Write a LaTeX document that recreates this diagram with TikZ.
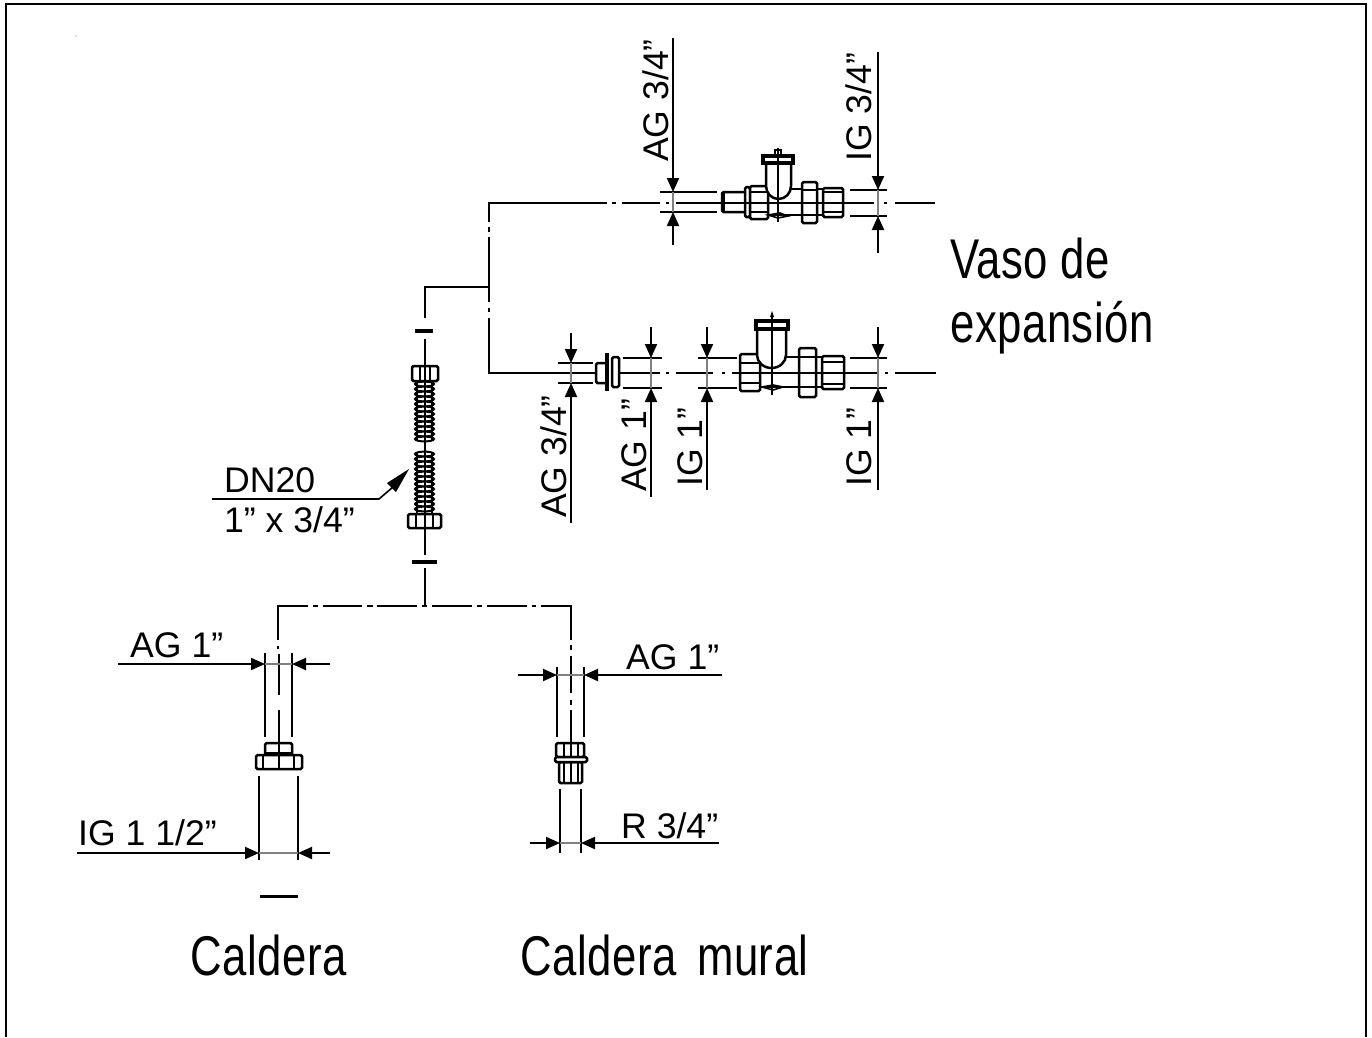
\documentclass[tikz,border=0pt]{standalone}
\usepackage{fontspec}
\setmainfont{Liberation Sans}
\newfontfamily\bigfont[FakeStretch=0.78,LetterSpace=1]{Liberation Sans}
\usetikzlibrary{arrows.meta}
\tikzset{
    dim/.style={line width=2pt,-{Triangle[length=14pt,width=12pt]}},
    ext/.style={line width=2.1pt},
    pipe/.style={line width=2.4pt},
    part/.style={line width=2.5pt,fill=white,rounded corners=1.5pt},
    lab/.style={anchor=base west,inner sep=0pt,font=\fontsize{35.6}{40}\selectfont},
    vlab/.style={lab,rotate=90},
    biglab/.style={anchor=base west,inner sep=0pt,font=\bigfont\fontsize{56}{60}\selectfont}
}
\begin{document}
\begin{tikzpicture}[x=1pt,y=-1pt]
    \useasboundingbox (0,0) rectangle (1372,1037);
    \draw[line width=2.6pt] (6,1037) -- (6,4) -- (1366,4) -- (1366,1037);
    \fill[gray] (76,36) circle (0.6);

    % pipes
    \draw[pipe] (425,318) -- (425,287) -- (489,287);
    \draw[pipe] (607,203) -- (489,203) -- (489,222);
    \draw[pipe] (489,227) -- (489,232) (489,237) -- (489,302) (489,308) -- (489,312);
    \draw[pipe] (489,318) -- (489,373) -- (596,373);
    \draw[pipe] (612,203) -- (616,203) (622,203) -- (660,203) (666,203) -- (669,203) (676,203) -- (722,203);
    \draw[pipe] (619,373) -- (660,373) (666,373) -- (669,373) (676,373) -- (713,373) (722,373) -- (725,373) (732,373) -- (878,373) (885,373) -- (888,373) (895,373) -- (936,373);
    \draw[pipe] (722,203) -- (874,203) (884,203) -- (887,203) (895,203) -- (935,203);

    % flex hose
    \draw[pipe] (425,339) -- (425,555) (425,568) -- (425,606);
    \draw[line width=3.6pt] (415,331) -- (433,331) (412,562) -- (437,562);
    \foreach \y in {384,389,...,439}{\draw[line width=2pt,fill=white] (424.5,\y) ellipse (9.5 and 2.4);}
    \foreach \y in {454,459,...,509}{\draw[line width=2pt,fill=white] (424.5,\y) ellipse (9.5 and 2.4);}
    \draw[line width=1.6pt] (417,381) -- (417,441) (432,381) -- (432,441) (417,453) -- (417,513) (432,453) -- (432,513) (425,381) -- (425,513);
    \draw[part] (412,366) rectangle (438,381);
    \draw[pipe] (420,366) -- (420,381) (430,366) -- (430,381) (425,366) -- (425,381);
    \draw[part] (408,514) rectangle (441,528);
    \draw[pipe] (416,514) -- (416,528) (433,514) -- (433,528) (425,514) -- (425,528);

    % header to boilers
    \draw[pipe] (278,640) -- (278,606) -- (308,606) (313,606) -- (318,606) (323,606) -- (362,606) (367,606) -- (373,606) (377,606) -- (417,606) (422,606) -- (427,606) (432,606) -- (472,606) (477,606) -- (482,606) (487,606) -- (527,606) (532,606) -- (536,606) (541,606) -- (571,606) -- (571,640);
    \draw[pipe] (278,646) -- (278,649) (571,645) -- (571,650);

    % upper valve
    \draw[part] (722,192) rectangle (750,212);
    \draw[line width=3.4pt] (723,192) -- (723,212);
    \draw[part] (745,187) rectangle (750,217);
    \draw[pipe] (768,189) -- (802,189) (768,215) -- (823,215) (817,189) -- (823,189);
    \draw[part] (750,186) rectangle (768,219);
    \draw[pipe] (750,192) -- (768,192) (750,212) -- (768,212);
    \draw[line width=2.5pt,fill=white] (766,163) -- (766,186) arc[start angle=180,end angle=0,x radius=12.5,y radius=13] -- (791,163);
    \draw[line width=3.2pt,fill=white] (763,156) rectangle (793,163);
    \draw[line width=1.8pt] (775,156) -- (775,150) -- (781,150) -- (781,156);
    \draw[part] (802,182) rectangle (817,223);
    \draw[pipe] (802,190) -- (817,190) (802,215) -- (817,215);
    \draw[part] (823,188) rectangle (843,217);
    \draw[pipe] (823,192) -- (843,192) (823,212) -- (843,212);
    \draw[line width=1.6pt] (768,215) -- (780,213) -- (788,216) -- (778,218) -- cycle;
    \draw[pipe] (778,148) -- (778,222);
    \draw[pipe] (722,203) -- (874,203);

    % lower valve
    \draw[part] (596,363) rectangle (607,383);
    \draw[line width=3.8pt] (607,353) -- (607,391);
    \draw[part] (612,357) rectangle (619,387);
    \draw[pipe] (760,357) -- (799,357) (760,387) -- (799,387) (816,357) -- (822,357) (816,387) -- (822,387);
    \draw[part] (740,354) rectangle (760,391);
    \draw[pipe] (740,363) -- (760,363) (740,383) -- (760,383);
    \draw[line width=2.5pt,fill=white] (757,329) -- (757,355) arc[start angle=180,end angle=0,x radius=14.5,y radius=13] -- (786,329);
    \draw[line width=3.2pt,fill=white] (756,321) rectangle (788,329);
    \draw[part] (799,348) rectangle (816,397);
    \draw[pipe] (799,357) -- (816,357) (799,387) -- (816,387);
    \draw[part] (822,356) rectangle (844,389);
    \draw[pipe] (822,362) -- (844,362) (822,384) -- (844,384);
    \draw[line width=1.6pt] (762,387) -- (773,385) -- (783,387) -- (773,390) -- cycle;
    \draw[line width=2.6pt] (772,316) -- (772,395);
    \fill (770,317) -- (772,311) -- (774,317) -- cycle;
    \draw[pipe] (732,373) -- (878,373);

    % left boiler fitting
    \draw[pipe] (279,654) -- (279,695) (279,710) -- (279,769);
    \draw[ext] (265,653) -- (265,737) (292,653) -- (292,737);
    \draw[part] (265,743) rectangle (292,755);
    \draw[line width=3.6pt] (265,753.5) -- (292,753.5);
    \draw[part] (256,755) rectangle (302,769);
    \draw[pipe] (263,755) -- (263,769) (294,755) -- (294,769) (279,743) -- (279,769);
    \draw[ext] (259,776) -- (259,860) (298,776) -- (298,860);
    \draw[line width=3pt] (260,896) -- (298,896);

    % right boiler fitting
    \draw[pipe] (571,656) -- (571,693) (571,700) -- (571,705) (571,710) -- (571,743);
    \draw[ext] (557,667) -- (557,737) (584,667) -- (584,737);
    \draw[part] (556,743) rectangle (584,757);
    \draw[part] (559,762) rectangle (582,783);
    \draw[part] (555,757) rectangle (587,762);
    \draw[pipe] (564,743) -- (564,757) (571,743) -- (571,757) (578,743) -- (578,757) (564,762) -- (564,783) (571,762) -- (571,783) (578,762) -- (578,783);
    \draw[ext] (560,789) -- (560,853) (581,789) -- (581,853);

    % dimensions
    \draw[ext] (660,192) -- (717,192) (660,212) -- (717,212);
    \draw[ext] (850,190) -- (887,190) (850,216) -- (887,216);
    \draw[ext] (558,363) -- (593,363) (558,383) -- (593,383);
    \draw[ext] (623,358) -- (662,358) (623,388) -- (662,388);
    \draw[ext] (698,358) -- (737,358) (698,388) -- (737,388);
    \draw[ext] (850,358) -- (887,358) (850,388) -- (887,388);
    \draw[line width=1.2pt,gray] (673,192) -- (673,212) (878,190) -- (878,216) (571,363) -- (571,383) (651,358) -- (651,388) (707,358) -- (707,388) (878,358) -- (878,388) (265,664) -- (292,664) (259,853) -- (298,853) (557,675) -- (584,675) (560,843) -- (581,843);
    \draw[dim] (673,38) -- (673,192);
    \draw[dim] (673,245) -- (673,212);
    \draw[dim] (878,52) -- (878,190);
    \draw[dim] (878,253) -- (878,216);
    \draw[dim] (571,333) -- (571,363);
    \draw[dim] (571,523) -- (571,383);
    \draw[dim] (651,327) -- (651,358);
    \draw[dim] (651,497) -- (651,388);
    \draw[dim] (707,327) -- (707,358);
    \draw[dim] (707,490) -- (707,388);
    \draw[dim] (878,327) -- (878,358);
    \draw[dim] (878,490) -- (878,388);
    \draw[dim] (118,664) -- (265,664);
    \draw[dim] (330,664) -- (292,664);
    \draw[dim] (77,853) -- (259,853);
    \draw[dim] (330,853) -- (298,853);
    \draw[dim] (518,675) -- (557,675);
    \draw[dim] (722,675) -- (584,675);
    \draw[dim] (530,843) -- (560,843);
    \draw[dim] (719,843) -- (581,843);
    \draw[line width=1.6pt] (212,499) -- (379,499) -- (393,487);
    \fill (409,469) -- (396,492) -- (387,483) -- cycle;

    % labels
    \node[vlab] (upagl) at (668,162) {AG 3/4”};
    \node[vlab] (upigl) at (871,162) {IG 3/4”};
    \node[vlab] (loagsmall) at (566,518) {AG 3/4”};
    \node[vlab] (loagbig) at (646,492) {AG 1”};
    \node[vlab] (loigl) at (702,487) {IG 1”};
    \node[vlab] (loigr) at (871,487) {IG 1”};
    \node[lab] (dn) at (224,492) {DN20};
    \node[lab] (hose) at (224,532) {1” x 3/4”};
    \node[lab] (agl) at (130,657) {AG 1”};
    \node[lab] (agr) at (626,669) {AG 1”};
    \node[lab] (igb) at (78,845) {IG 1 1/2”};
    \node[lab] (rr) at (621,838) {R 3/4”};
    \node[biglab] (vaso) at (950,278) {Vaso de};
    \node[biglab] (exp) at (950,342) {expansión};
    \node[biglab] (cal) at (190,975) {Caldera};
    \node[biglab] (calm) at (520,975) {Caldera\hspace{8pt} mural};
\end{tikzpicture}
\end{document}
